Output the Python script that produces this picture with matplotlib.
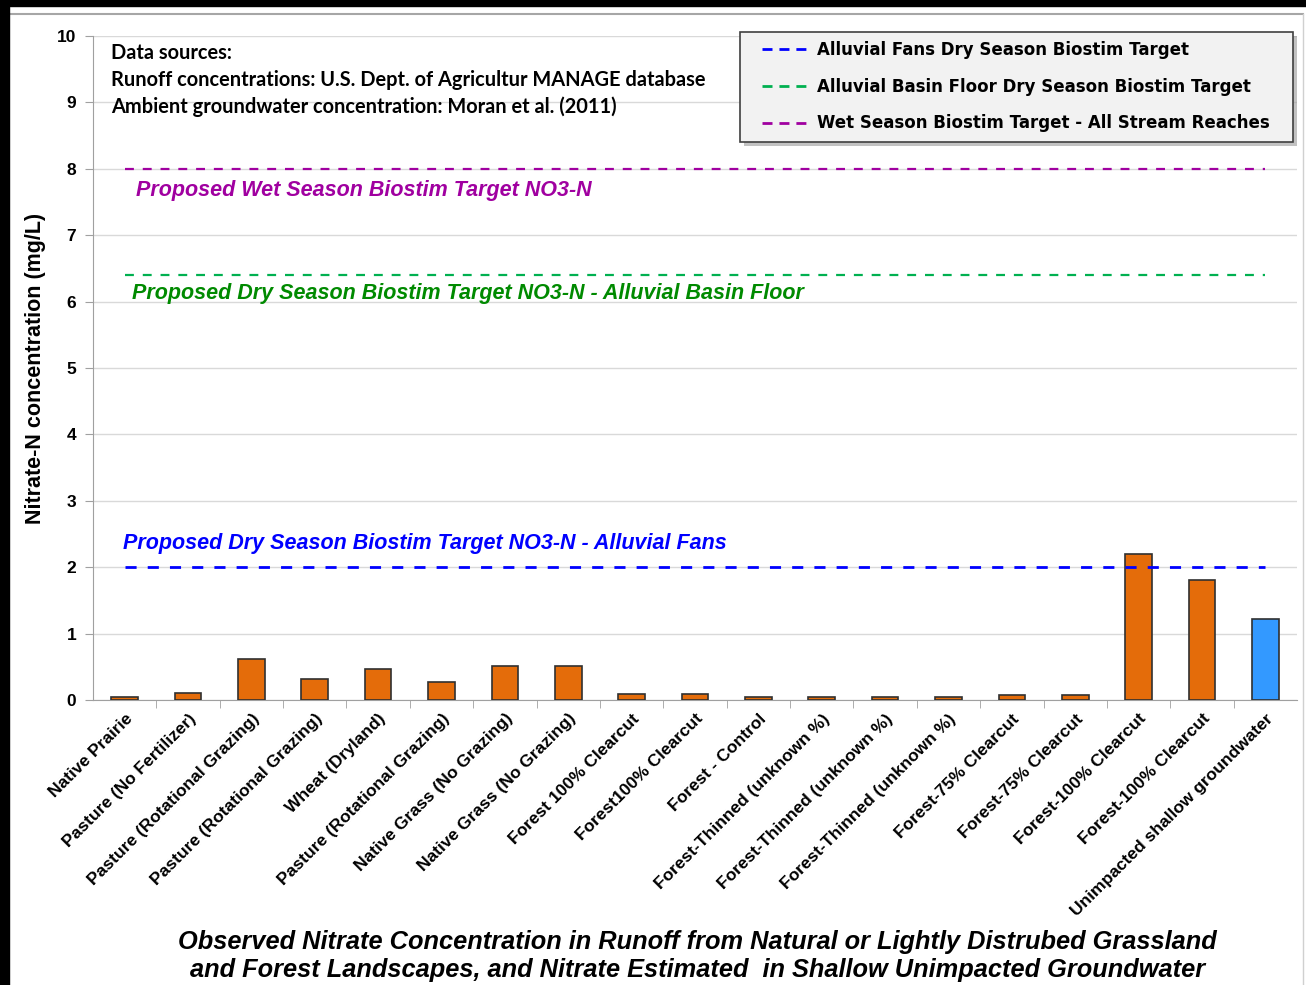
import matplotlib
matplotlib.use("Agg")
import matplotlib.pyplot as plt
from matplotlib.lines import Line2D
from matplotlib.patches import Rectangle

# ---------- Data ----------
categories = [
    "Native Prairie", "Pasture (No Fertilizer)", "Pasture (Rotational Grazing)",
    "Pasture (Rotational Grazing)", "Wheat (Dryland)", "Pasture (Rotational Grazing)",
    "Native Grass (No Grazing)", "Native Grass (No Grazing)", "Forest 100% Clearcut",
    "Forest100% Clearcut", "Forest - Control", "Forest-Thinned (unknown %)",
    "Forest-Thinned (unknown %)", "Forest-Thinned (unknown %)", "Forest-75% Clearcut",
    "Forest-75% Clearcut", "Forest-100% Clearcut", "Forest-100% Clearcut",
    "Unimpacted shallow groundwater",
]
nitrate = [0.045, 0.10, 0.62, 0.31, 0.46, 0.27, 0.52, 0.52, 0.09,
           0.09, 0.045, 0.045, 0.045, 0.045, 0.07, 0.07, 2.20, 1.81, 1.22]
groundwater = [False] * 18 + [True]

fans_target = 2.0
basin_target = 6.4
wet_target = 8.0

yticks = list(range(0, 11))

W, H = 1306, 985

# ---------- Figure ----------
fig = plt.figure(figsize=(W / 100, H / 100), dpi=100)
ax = fig.add_axes([0.0712, 0.2893, 0.9219, 0.6741])

x = list(range(len(categories)))
colors = ["#3399FF" if g else "#E46C0A" for g in groundwater]
ax.bar(x, nitrate, width=0.42, color=colors, edgecolor="#303030", linewidth=1.2, zorder=3)

# target lines
ax.plot([x[0], x[-1]], [fans_target] * 2, color="#0000FF", ls=(0, (4, 4)), lw=2, zorder=4)
ax.plot([x[0], x[-1]], [basin_target] * 2, color="#00B050", ls=(0, (4, 4)), lw=1.6, zorder=4)
ax.plot([x[0], x[-1]], [wet_target] * 2, color="#A000A0", ls=(0, (4, 4)), lw=1.6, zorder=4)

ann = dict(fontsize=15.5, style="italic", fontweight="bold",
           family="Liberation Sans", va="center")
ax.text(-0.03, 2.36, "Proposed Dry Season Biostim Target NO3-N - Alluvial Fans",
        color="#0000FF", **ann)
ax.text(0.12, 6.12, "Proposed Dry Season Biostim Target NO3-N - Alluvial Basin Floor",
        color="#008A00", **ann)
ax.text(0.18, 7.68, "Proposed Wet Season Biostim Target NO3-N",
        color="#A000A0", **ann)

ax.set_xlim(-0.5, len(categories) - 0.5)
ax.set_ylim(0, 10)
ax.set_yticks(yticks)
ax.set_yticklabels([str(t) for t in yticks], fontsize=12.5, fontweight="bold",
                   family="Liberation Sans")
ax.yaxis.grid(True, color="#D9D9D9", lw=1)
ax.set_axisbelow(True)

ax.set_xticks(x)
ax.set_xticklabels(categories, rotation=45, ha="right", rotation_mode="anchor",
                   fontsize=12.5, fontweight="bold", family="Liberation Sans")
ax.tick_params(axis="x", length=0, pad=8)
ax.set_xticks([i + 0.5 for i in x[:-1]], minor=True)
ax.tick_params(axis="x", which="minor", length=6, color="#A0A0A0")
ax.tick_params(axis="y", length=6, color="#A0A0A0", pad=6)

for s in ["top", "right"]:
    ax.spines[s].set_visible(False)
ax.spines["left"].set_color("#A0A0A0")
ax.spines["bottom"].set_color("#A0A0A0")

ax.set_ylabel("Nitrate-N concentration (mg/L)", fontsize=15.5, fontweight="bold",
              family="Liberation Sans", labelpad=8)

# data sources note
note = ["Data sources:",
        "Runoff concentrations: U.S. Dept. of Agricultur MANAGE database",
        "Ambient groundwater concentration: Moran et al. (2011)"]
for i, line in enumerate(note):
    fig.text(111 / W, 1 - (53 + 27 * i) / H, line, fontsize=14.4,
             fontweight="bold", family="Lato", va="center")

# legend: box + shadow drawn by hand, entries via fig.legend
box_x0, box_y0, box_x1, box_y1 = 740, 32, 1293, 142
fig.patches.append(Rectangle(((box_x0 + 4) / W, 1 - (box_y1 + 4) / H),
                             (box_x1 - box_x0) / W, (box_y1 - box_y0) / H,
                             transform=fig.transFigure, color="#9A9A9A", alpha=0.6,
                             lw=0, zorder=5))
fig.patches.append(Rectangle((box_x0 / W, 1 - box_y1 / H),
                             (box_x1 - box_x0) / W, (box_y1 - box_y0) / H,
                             transform=fig.transFigure, facecolor="#F2F2F2",
                             edgecolor="#404040", lw=1.2, zorder=6))
handles = [
    Line2D([], [], color="#0000FF", ls=(0, (3.6, 2.5)), lw=2),
    Line2D([], [], color="#00B050", ls=(0, (3.6, 2.5)), lw=2),
    Line2D([], [], color="#A000A0", ls=(0, (3.6, 2.5)), lw=2),
]
labels = ["Alluvial Fans Dry Season Biostim Target",
          "Alluvial Basin Floor Dry Season Biostim Target",
          "Wet Season Biostim Target - All Stream Reaches"]
leg = fig.legend(handles, labels, loc="upper left",
                 bbox_to_anchor=(762 / W, 1 - 41 / H),
                 prop={"family": "DejaVu Sans", "weight": "bold", "size": 12},
                 frameon=False, handlelength=2.65, labelspacing=1.12,
                 borderpad=0, handletextpad=0.65, borderaxespad=0)
leg.set_zorder(7)

# bottom caption
cap = dict(ha="center", va="center", fontsize=18.3, style="italic", fontweight="bold",
           family="Liberation Sans")
fig.text(0.534, 1 - 942 / H,
         "Observed Nitrate Concentration in Runoff from Natural or Lightly Distrubed Grassland",
         **cap)
fig.text(0.534, 1 - 970 / H,
         "and Forest Landscapes, and Nitrate Estimated  in Shallow Unimpacted Groundwater",
         **cap)

# outer frame (slide border + chart area border)
fig.patches.append(Rectangle((0, 1 - 6 / H), 1, 6 / H, transform=fig.transFigure,
                             color="black", zorder=10))
fig.patches.append(Rectangle((0, 0), 9 / W, 1, transform=fig.transFigure,
                             color="black", zorder=10))
fig.lines.append(Line2D([9 / W, 1303 / W], [1 - 14 / H] * 2,
                        transform=fig.transFigure, color="#A6A6A6", lw=1.5))
fig.lines.append(Line2D([1303 / W] * 2, [1 - 14 / H, 0],
                        transform=fig.transFigure, color="#D0D0D0", lw=1))

fig.savefig("out.png", dpi=100)
